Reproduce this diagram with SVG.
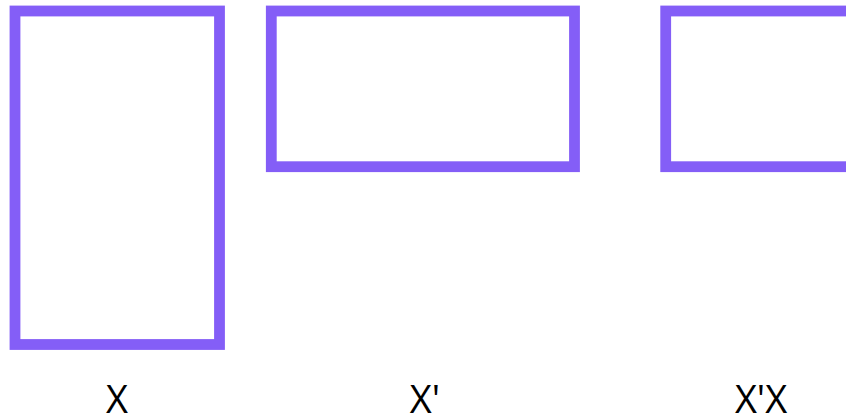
<svg xmlns="http://www.w3.org/2000/svg" width="846" height="419" viewBox="0 0 846 419">
<style>
.box{fill:#ffffff;stroke:#845ef7;stroke-width:10.8}
.lbl{font-family:"Open Sans","Liberation Sans",sans-serif;font-size:38px;fill:#000000;text-anchor:middle}
</style>
<rect width="846" height="419" fill="#ffffff"/>
<g id="X">
<rect class="box" x="15" y="11" width="204.5" height="333.5"/>
<text class="lbl" x="117" y="413">X</text>
</g>
<g id="Xt">
<rect class="box" x="271.3" y="11" width="303.2" height="155.7"/>
<text class="lbl" x="425" y="413">X'</text>
</g>
<g id="XtX">
<rect class="box" x="665.7" y="11" width="303.2" height="155.7"/>
<text class="lbl" x="761" y="413">X'X</text>
</g>
<g id="connectors"></g>
</svg>
